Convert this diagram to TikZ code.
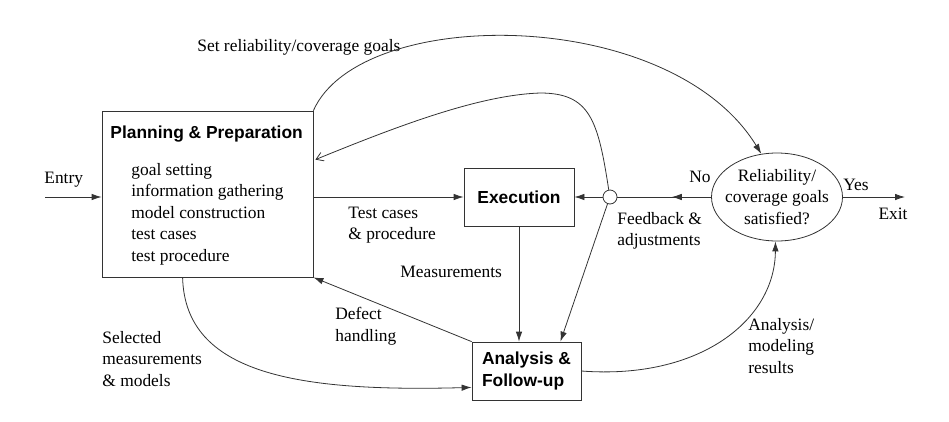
\documentclass[tikz,border=0pt]{standalone}
\usepackage{fontspec}
\setmainfont{Liberation Serif}
\setsansfont{Liberation Sans}
\usetikzlibrary{arrows.meta,shapes.geometric,decorations.markings,calc}
\begin{document}
\begin{tikzpicture}[x=1pt,y=-1pt,line width=0.8pt,
  ln/.style={draw=black!80},
  txt/.style={font=\fontsize{17.4}{21.5}\selectfont,inner sep=0pt,align=left},
  ttl/.style={font=\fontsize{17.4}{21.5}\selectfont\sffamily\bfseries,inner sep=0pt,align=left},
  box/.style={draw=black!80,rectangle,inner sep=0pt},
  arr/.style={ln,-{Latex[length=10pt,width=6.5pt]}},
  barb/.style={ln,-{Straight Barb[length=7pt,width=9pt]}}]
\useasboundingbox (0,0) rectangle (949,421);
% nodes
\node[box,minimum width=211pt,minimum height=166pt] (plan) at (207.5,194) {};
\node[ttl,anchor=west] (plantitle) at (110,134) {Planning \& Preparation};
\node[txt,anchor=west] (planlist) at (131,214) {goal setting\\information gathering\\model construction\\test cases\\test procedure};
\node[box,ttl,minimum width=110pt,minimum height=58pt] (exec) at (519,197) {Execution};
\node[box,ttl,minimum width=109pt,minimum height=58pt,align=left] (ana) at (526.5,371) {Analysis \&\\Follow-up};
\node[draw=black!80,circle,minimum size=14pt,inner sep=0pt] (circ) at (610,197) {};
\node[draw=black!80,ellipse,minimum width=131pt,minimum height=88pt,inner sep=0pt] (ell) at (777,197) {};
\node[txt,align=center] (elltext) at (ell.center) {Reliability/\\coverage goals\\satisfied?};
\coordinate (entry) at (45,197);
\coordinate (exit) at (905,197);
% labels
\node[txt,anchor=west] (lgoal) at (197,47) {Set reliability/coverage goals};
\node[txt,anchor=west] (lentry) at (44,180) {Entry};
\node[txt,anchor=west] (ltest) at (348,225) {Test cases\\\& procedure};
\node[txt,anchor=west] (lmeas) at (400,272) {Measurements};
\node[txt,anchor=west] (lfeed) at (617,231) {Feedback \&\\adjustments};
\node[txt] (lno) at (700,177) {No};
\node[txt] (lyes) at (856,185) {Yes};
\node[txt] (lexit) at (893,214) {Exit};
\node[txt,anchor=west] (ldef) at (335,326) {Defect\\handling};
\node[txt,anchor=west] (lsel) at (102,359) {Selected\\measurements\\\& models};
\node[txt,anchor=west] (lres) at (748,346) {Analysis/\\modeling\\results};
% connectors
\draw[arr] (entry) -- (plan.west |- entry);
\draw[arr] (plan.east |- exec.west) -- (exec.west);
\draw[arr] (circ.west) -- (exec.east);
\draw[ln,decoration={markings,mark=at position 0.42 with {\arrow{Latex[length=10pt,width=6.5pt]}}},postaction={decorate}] (ell.west) -- (circ.east);
\draw[arr] (ell.east) -- (exit);
\draw[arr] (exec.south) -- (exec.south |- ana.north);
\draw[arr] (circ.250) -- ($(ana.north east)+(-21,0)$);
\draw[barb] (circ.100) .. controls (598,120) and (590,93) .. (540,93)
  .. controls (480,95) and (400,125) .. ($(plan.north east)+(2,49)$);
\draw[arr] (plan.north east) .. controls (360,5) and (670,5) .. (ell.110);
\draw[arr] (ana.north west) -- (plan.south east);
\draw[arr] ($(plan.south west)+(81,0)$) .. controls (185,375) and (300,392) .. ($(ana.south west)+(0,-13)$);
\draw[arr] (ana.east) .. controls (700,380) and (775,320) .. (ell.268);
\end{tikzpicture}
\end{document}
